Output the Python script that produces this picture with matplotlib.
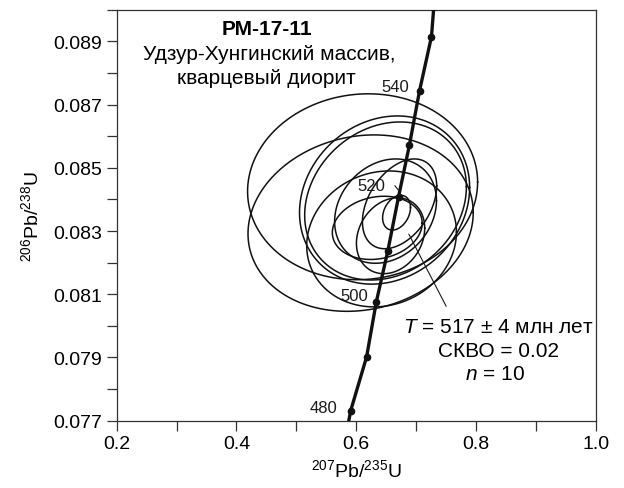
import numpy as np
import matplotlib.pyplot as plt
from matplotlib.ticker import MultipleLocator

plt.rcParams['font.family'] = ['Liberation Sans', 'DejaVu Sans']
plt.rcParams['mathtext.fontset'] = 'custom'
plt.rcParams['mathtext.rm'] = 'Liberation Sans'
plt.rcParams['mathtext.it'] = 'Liberation Sans:italic'

# concordia markers, every 10 Ma
ages = [480, 490, 500, 510, 520, 530, 540, 550]
conc_x = [0.5905, 0.6172, 0.6333, 0.6527, 0.6705, 0.6888, 0.7055, 0.7255]
conc_y = [0.07731, 0.07902, 0.08075, 0.08238, 0.08408, 0.08573, 0.08743, 0.08915]
# curve ends where it leaves the frame
end_x = [0.5875, 0.7290]
end_y = [0.0770, 0.0900]
labeled_ages = [480, 500, 520, 540]

# analysis ellipses: centre, half-widths, correlation
ell_x = [0.6105, 0.6072, 0.6472, 0.6488, 0.6422, 0.6488, 0.6572, 0.6722, 0.6350, 0.6672]
ell_y = [0.08440, 0.08325, 0.08398, 0.08395, 0.08275, 0.08363, 0.08285, 0.08386, 0.08310, 0.08358]
ell_sx = [0.192, 0.188, 0.142, 0.135, 0.125, 0.085, 0.057, 0.062, 0.075, 0.0233]
ell_sy = [0.00294, 0.00279, 0.00266, 0.00250, 0.00215, 0.00165, 0.00120, 0.00142, 0.00100, 0.00055]
ell_rho = [0.05, 0.12, 0.15, 0.18, 0.10, 0.20, 0.20, 0.40, 0.15, 0.30]

fig = plt.figure(figsize=(6.24, 4.89), dpi=100)
ax = fig.add_axes([0.187, 0.1376, 0.768, 0.8405])

t = np.linspace(0, 2 * np.pi, 300)
for cx, cy, sx, sy, r in zip(ell_x, ell_y, ell_sx, ell_sy, ell_rho):
    ex = cx + sx * np.cos(t)
    ey = cy + sy * (r * np.cos(t) + np.sqrt(1 - r ** 2) * np.sin(t))
    ax.plot(ex, ey, color='#111111', lw=1.1, zorder=2)

cx_all = [end_x[0]] + conc_x + [end_x[1]]
cy_all = [end_y[0]] + conc_y + [end_y[1]]
ax.plot(cx_all, cy_all, color='#111111', lw=2.4, zorder=3)
ax.plot(conc_x, conc_y, 'o', color='#111111', ms=4.5, zorder=4)

offsets = {480: (-0.045, 0.00012), 500: (-0.037, 0.00022), 520: (-0.045, 0.00035), 540: (-0.04, 0.00013)}
for a, x, y in zip(ages, conc_x, conc_y):
    if a in labeled_ages:
        dx, dy = offsets[a]
        ax.text(x + dx, y + dy, str(a), fontsize=12, ha='center', va='center', color='#1a1a1a')
# small leader for 520
ax.plot([0.6645, 0.6700], [0.08443, 0.08430], color='#1a1a1a', lw=0.8)

# header
ax.text(0.4505, 0.0894, 'РМ-17-11', fontsize=15, fontweight='bold', ha='center', va='center')
ax.text(0.4555, 0.08860, 'Удзур-Хунгинский массив,', fontsize=15, ha='center', va='center')
ax.text(0.4505, 0.08787, 'кварцевый диорит', fontsize=15, ha='center', va='center')

# result block
ax.annotate('', xy=(0.6855, 0.08298), xytext=(0.7522, 0.08054),
            arrowprops=dict(arrowstyle='-', color='#1a1a1a', lw=0.8))
ax.text(0.8365, 0.07997, r'$T$ = 517 ± 4 млн лет', fontsize=15, ha='center', va='center')
ax.text(0.838, 0.07922, 'СКВО = 0.02', fontsize=15, ha='center', va='center')
ax.text(0.8315, 0.07849, r'$n$ = 10', fontsize=15, ha='center', va='center')

ax.set_xlim(0.2, 1.0)
ax.set_ylim(0.077, 0.090)
ax.xaxis.set_minor_locator(MultipleLocator(0.1))
ax.yaxis.set_minor_locator(MultipleLocator(0.001))
ax.set_yticks([0.077, 0.079, 0.081, 0.083, 0.085, 0.087, 0.089])
ax.set_xticks([0.2, 0.4, 0.6, 0.8, 1.0])
ax.set_xticklabels(['0.2', '0.4', '0.6', '0.8', '1.0'])
ax.set_yticklabels(['0.077', '0.079', '0.081', '0.083', '0.085', '0.087', '0.089'])
ax.tick_params(which='both', direction='out', length=7, width=0.9, color='#333333',
               labelsize=14, top=False, right=False)
for s in ax.spines.values():
    s.set_linewidth(0.9)
    s.set_color('#333333')

ax.set_xlabel(r'$^{207}$Pb/$^{235}$U', fontsize=14, labelpad=4)
ax.set_ylabel(r'$^{206}$Pb/$^{238}$U', fontsize=14, labelpad=8)

fig.savefig('out.png', dpi=100)
